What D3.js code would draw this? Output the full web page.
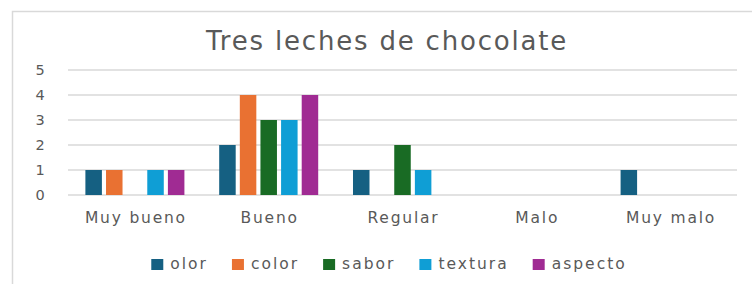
<!DOCTYPE html>
<meta charset="utf-8">
<script src="https://d3js.org/d3.v7.min.js"></script>
<style>
  body { margin: 0; background: #fff; }
  text { font-family: "DejaVu Sans", sans-serif; fill: #595959; }
</style>
<div id="chart"></div>
<script>

// data
var categories = ["Muy bueno", "Bueno", "Regular", "Malo", "Muy malo"];
var seriesNames = ["olor", "color", "sabor", "textura", "aspecto"];
var olor    = [1, 2, 1, 0, 1];
var color   = [1, 4, 0, 0, 0];
var sabor   = [0, 3, 2, 0, 0];
var textura = [1, 3, 1, 0, 0];
var aspecto = [1, 4, 0, 0, 0];
var yTicks = [0, 1, 2, 3, 4, 5];
var title = "Tres leches de chocolate";

var seriesValues = [olor, color, sabor, textura, aspecto];
var colors = ["#156082", "#E97132", "#196B24", "#0F9ED5", "#A02B93"];

var W = 752, H = 284;
var margin = {top: 70, left: 68, right: 15, bottom: 89};
var width = W - margin.left - margin.right,
    height = H - margin.top - margin.bottom;

var svg = d3.select("#chart")
  .append("svg")
    .attr("width", W)
    .attr("height", H);

// chart border (runs past the right and bottom edges)
svg.append("rect")
  .attr("x", 12.5).attr("y", 11.5)
  .attr("width", 800).attr("height", 400)
  .attr("fill", "none")
  .attr("stroke", "#D9D9D9")
  .attr("stroke-width", 1.5);

svg.append("text")
  .attr("x", 387)
  .attr("y", 50)
  .attr("text-anchor", "middle")
  .style("font-size", "26px")
  .style("letter-spacing", "1.8px")
  .text(title);

var g = svg.append("g")
  .attr("transform", "translate(" + margin.left + "," + margin.top + ")");

var y = d3.scaleLinear().domain([0, 5]).range([height, 0]);

var x0 = d3.scaleBand()
  .domain(categories)
  .range([0, width])
  .paddingInner(0.26)
  .paddingOuter(0.13);

var x1 = d3.scaleBand()
  .domain(seriesNames)
  .range([0, x0.bandwidth()])
  .paddingInner(0.2);

// gridlines
g.selectAll("line.grid")
  .data(yTicks)
  .enter()
  .append("line")
    .attr("class", "grid")
    .attr("x1", 0).attr("x2", width)
    .attr("y1", function(d){ return y(d) })
    .attr("y2", function(d){ return y(d) })
    .attr("stroke", "#D9D9D9")
    .attr("stroke-width", 1.5);

// y labels
g.selectAll("text.ylab")
  .data(yTicks)
  .enter()
  .append("text")
    .attr("class", "ylab")
    .attr("x", -28)
    .attr("y", function(d){ return y(d) + 5 })
    .attr("text-anchor", "middle")
    .style("font-size", "14.5px")
    .text(function(d){ return d });

// bars
var rows = [];
categories.forEach(function(c, i){
  seriesNames.forEach(function(s, j){
    rows.push({cat: c, series: s, value: seriesValues[j][i], color: colors[j]});
  });
});

g.selectAll("rect.bar")
  .data(rows.filter(function(d){ return d.value > 0 }))
  .enter()
  .append("rect")
    .attr("class", "bar")
    .attr("x", function(d){ return x0(d.cat) + x1(d.series) })
    .attr("y", function(d){ return y(d.value) })
    .attr("width", x1.bandwidth())
    .attr("height", function(d){ return height - y(d.value) })
    .attr("fill", function(d){ return d.color });

// x labels
g.selectAll("text.xlab")
  .data(categories)
  .enter()
  .append("text")
    .attr("class", "xlab")
    .attr("x", function(d){ return x0(d) + x0.bandwidth() / 2 + 1 })
    .attr("y", height + 28)
    .attr("text-anchor", "middle")
    .style("font-size", "15.5px")
    .style("letter-spacing", "1.8px")
    .text(function(d){ return d });

// legend
var legend = svg.append("g");
var items = legend.selectAll("g.item")
  .data(seriesNames)
  .enter()
  .append("g")
    .attr("class", "item");

items.append("rect")
  .attr("width", 12).attr("height", 11)
  .attr("y", 259)
  .attr("fill", function(d, i){ return colors[i] });

items.append("text")
  .attr("x", 19)
  .attr("y", 269)
  .style("font-size", "15.5px")
  .style("letter-spacing", "2px")
  .text(function(d){ return d });

var offsets = [], pos = 0;
items.each(function(d, i){
  offsets.push(pos);
  var tw = d3.select(this).select("text").node().getComputedTextLength();
  pos += 19 + tw + (i < seriesNames.length - 1 ? 24 : 0);
});
var start = 389 - pos / 2;
items.attr("transform", function(d, i){ return "translate(" + (start + offsets[i]) + ",0)" });

</script>
